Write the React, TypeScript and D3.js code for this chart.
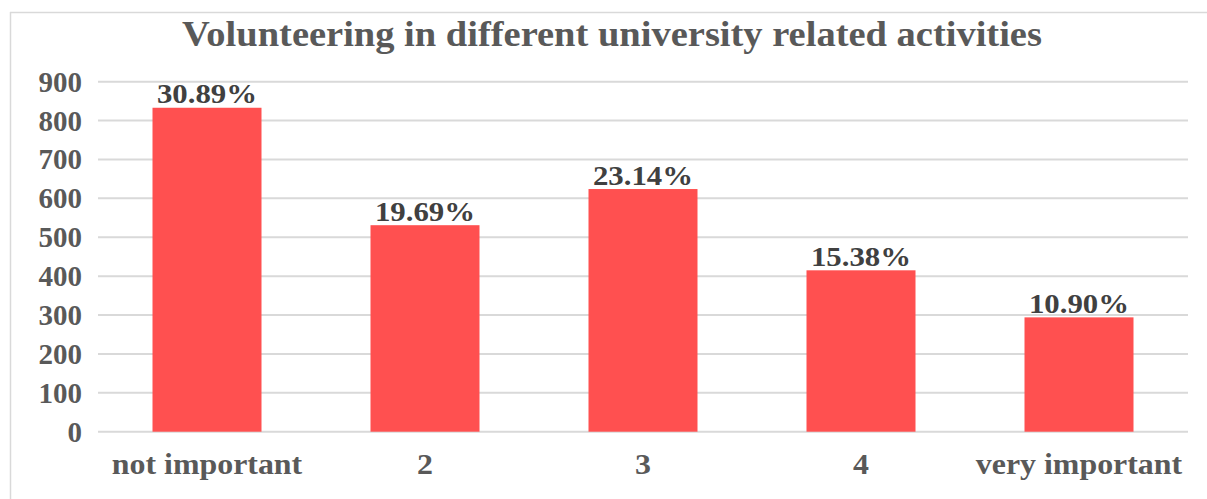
import React from "react";
import * as d3 from "d3";

const categories = ["not important", "2", "3", "4", "very important"];
const counts = [833, 531, 624, 415, 294];
const percentLabels = ["30.89%", "19.69%", "23.14%", "15.38%", "10.90%"];
const yTicks = [0, 100, 200, 300, 400, 500, 600, 700, 800, 900];
const title = "Volunteering in different university related activities";

export default function App() {
  const W = 1207, H = 499;
  const left = 98, right = 1188, top = 81.7, bottom = 431.7;
  const x = d3.scaleBand<string>().domain(categories).range([left, right]).paddingInner(0.5).paddingOuter(0.25);
  const y = d3.scaleLinear().domain([0, 900]).range([bottom, top]);
  const font = "'Liberation Serif', 'Times New Roman', serif";
  const gray = "#595959";
  const sx = 1.1;
  return (
    <svg width={W} height={H} style={{ position: "absolute", left: 0, top: 0 }}>
      <rect x={0} y={0} width={W} height={H} fill="#fff" />
      <line x1={10.5} y1={12} x2={10.5} y2={H} stroke="#d9d9d9" strokeWidth={1.5} />
      <line x1={10} y1={12.5} x2={W} y2={12.5} stroke="#d9d9d9" strokeWidth={1.5} />
      <text transform={`translate(612,46) scale(${sx},1)`} textAnchor="middle" fontFamily={font} fontWeight="bold" fontSize={35} fill={gray}>
        {title}
      </text>
      {yTicks.map((t) => (
        <g key={t}>
          <line x1={left} x2={right} y1={y(t)} y2={y(t)} stroke="#d9d9d9" strokeWidth={2} />
          <text x={82} y={y(t) + 10} textAnchor="end" fontFamily={font} fontWeight="bold" fontSize={29} fill={gray}>
            {t}
          </text>
        </g>
      ))}
      {categories.map((c, i) => {
        const cx = (x(c) as number) + x.bandwidth() / 2;
        return (
          <g key={c}>
            <rect x={x(c)} y={y(counts[i])} width={x.bandwidth()} height={y(0) - y(counts[i])} fill="#ff5050" />
            <text transform={`translate(${cx},${y(counts[i]) - 4.5}) scale(${sx},1)`} textAnchor="middle" fontFamily={font} fontWeight="bold" fontSize={28} fill="#404040">
              {percentLabels[i]}
            </text>
            <text transform={`translate(${cx},473.5) scale(${sx},1)`} textAnchor="middle" fontFamily={font} fontWeight="bold" fontSize={29} fill={gray}>
              {c}
            </text>
          </g>
        );
      })}
    </svg>
  );
}
